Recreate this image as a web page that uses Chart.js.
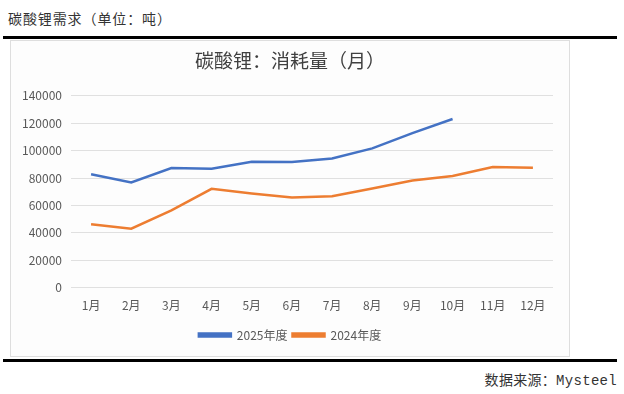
<!DOCTYPE html>
<html><head><meta charset="utf-8">
<script src="https://cdn.jsdelivr.net/npm/chart.js@4/dist/chart.umd.min.js"></script>
<style>
html,body{margin:0;padding:0;background:#fff;width:624px;height:394px;overflow:hidden;position:relative;}
#hdr{position:absolute;left:8px;top:8px;font:14px "Liberation Mono","Noto Sans CJK SC";color:#333;letter-spacing:0.9px;}
#l1{position:absolute;left:3px;top:36px;width:614px;height:3px;background:#000;}
#l2{position:absolute;left:3px;top:359px;width:614px;height:3px;background:#000;}
#box{position:absolute;left:10px;top:40px;width:558px;height:315px;border:1px solid #dedede;background:#fdfdfd;}
#src{position:absolute;right:7px;top:369px;font:14px "Liberation Mono","Noto Sans CJK SC";color:#333;letter-spacing:0.3px;}
canvas{display:block;}
</style></head><body>
<div id="hdr">碳酸锂需求（单位：吨）</div>
<div id="l1"></div>
<div id="box"><canvas id="c" width="558" height="315"></canvas></div>
<div id="l2"></div>
<div id="src">数据来源：Mysteel</div>
<script>
const months = ["1月","2月","3月","4月","5月","6月","7月","8月","9月","10月","11月","12月"];
const series2025 = [82700, 76700, 87300, 86800, 91900, 91700, 94300, 101600, 112700, 123100, null, null];
const series2024 = [46200, 43000, 56300, 72100, 68700, 65800, 66700, 72300, 78100, 81500, 88000, 87500];
const yTicks = [0, 20000, 40000, 60000, 80000, 100000, 120000, 140000];
const title = "碳酸锂：消耗量（月）";
const names = ["2025年度", "2024年度"];

const FONT = '"Noto Sans CJK SC", "Open Sans", sans-serif';
new Chart(document.getElementById('c'), {
  type: 'line',
  data: {
    labels: months,
    datasets: [
      {label: names[0], data: series2025, borderColor: '#4472C4', backgroundColor: '#4472C4', borderWidth: 2.5, pointRadius: 0, tension: 0, spanGaps: false},
      {label: names[1], data: series2024, borderColor: '#ED7D31', backgroundColor: '#ED7D31', borderWidth: 2.5, pointRadius: 0, tension: 0}
    ]
  },
  options: {
    responsive: false,
    animation: false,
    layout: {padding: {left: 0, right: 0, top: 0, bottom: 5}},
    plugins: {
      title: {display: true, text: title, color: '#404040', font: {family: FONT, size: 19, weight: 'normal'}, padding: {top: 8, bottom: 24}},
      legend: {position: 'bottom', labels: {boxWidth: 32, boxHeight: 3, color: '#595959', padding: 5, font: {family: FONT, size: 12}}},
      tooltip: {enabled: false}
    },
    scales: {
      x: {
        offset: true,
        grid: {display: false, drawTicks: false, offset: true},
        border: {display: false},
        ticks: {color: '#595959', padding: 11, font: {family: FONT, size: 12}}
      },
      y: {
        min: 0, max: 140000,
        afterBuildTicks: (ax) => { ax.ticks = yTicks.map(v => ({value: v})); },
        afterFit: (ax) => { ax.width = 60; },
        grid: {color: '#e0e0e0', lineWidth: 1, drawTicks: false},
        border: {display: false},
        ticks: {color: '#595959', padding: 9, font: {family: FONT, size: 12}, callback: (v) => String(v)}
      },
      yR: {
        position: 'right', min: 0, max: 1,
        grid: {display: false, drawTicks: false},
        border: {display: false},
        ticks: {display: false},
        afterFit: (ax) => { ax.width = 16; }
      }
    }
  }
});
</script>
</body></html>
